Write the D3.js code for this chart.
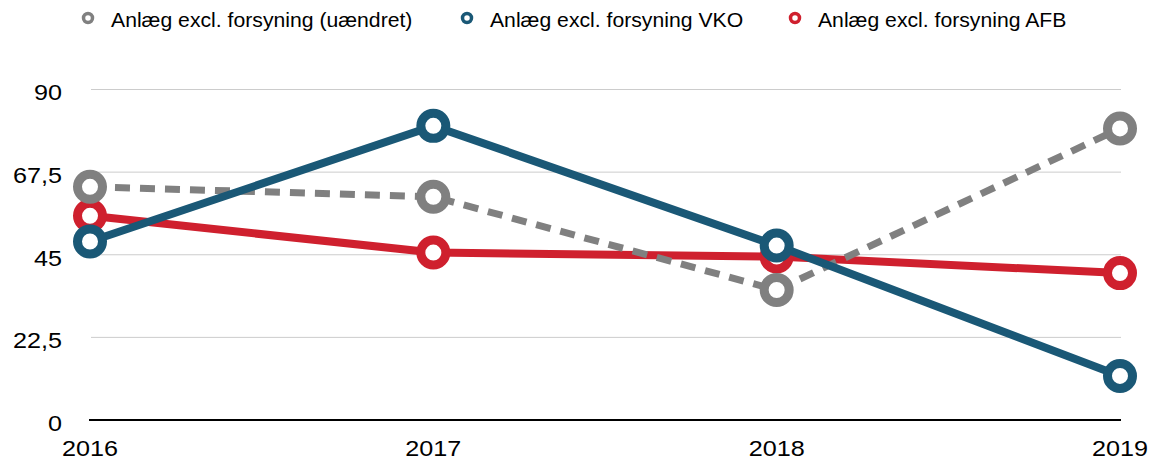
<!DOCTYPE html>
<meta charset="utf-8">
<style>
  body { margin: 0; background: #fff; }
  text { font-family: "Liberation Sans", Arial, sans-serif; }
</style>
<div id="chart"></div>
<script src="https://d3js.org/d3.v7.min.js"></script>
<script>
var years = [2016, 2017, 2018, 2019];
var yTicks = [0, 22.5, 45, 67.5, 90];
var seriesNames = ["Anlæg excl. forsyning (uændret)", "Anlæg excl. forsyning VKO", "Anlæg excl. forsyning AFB"];
var uaendret = [63.5, 60.8, 35.4, 79.4];
var vko = [48.6, 80.1, 47.5, 12.0];
var afb = [55.6, 45.6, 44.5, 40.0];

var colors = ["#808080", "#1a5876", "#cf202e"];

var width = 1157, height = 463;
var svg = d3.select("#chart").append("svg").attr("width", width).attr("height", height);

var x = d3.scalePoint().domain(years).range([90, 1120]);
var y = d3.scaleLinear().domain([0, 90]).range([420, 89.5]);

// text is a bit wider than Arial in the original
function wide(sx) {
  return function(sel) {
    sel.attr("transform", function() {
      var t = d3.select(this);
      var tx = +t.attr("x"), ty = +t.attr("y");
      return "translate(" + tx + "," + ty + ") scale(" + sx + ",1) translate(" + (-tx) + "," + (-ty) + ")";
    });
  };
}

// gridlines
svg.append("g").selectAll("line")
  .data(yTicks.filter(function(d) { return d > 0; }))
  .enter().append("line")
  .attr("x1", 91).attr("x2", 1121)
  .attr("y1", function(d) { return y(d); }).attr("y2", function(d) { return y(d); })
  .attr("stroke", "#cccccc").attr("stroke-width", 1);

// y labels
var fmt = function(d) { return String(d).replace(".", ","); };
svg.append("g").selectAll("text")
  .data(yTicks).enter().append("text")
  .attr("x", 62).attr("y", function(d) { return y(d) + 11; })
  .attr("text-anchor", "end").attr("font-size", 22.5).attr("fill", "#000")
  .text(fmt)
  .call(wide(1.12));

// x axis line
svg.append("line").attr("x1", 89).attr("x2", 1121).attr("y1", y(0)).attr("y2", y(0))
  .attr("stroke", "#000").attr("stroke-width", 2);

svg.append("g").selectAll("text")
  .data(years).enter().append("text")
  .attr("x", function(d) { return x(d); }).attr("y", 456)
  .attr("text-anchor", "middle").attr("font-size", 22.5).attr("fill", "#000")
  .text(function(d) { return d; })
  .call(wide(1.12));

var line = d3.line().x(function(d, i) { return x(years[i]); }).y(function(d) { return y(d); });

var series = [
  { name: seriesNames[2], values: afb, color: colors[2], dash: null },
  { name: seriesNames[0], values: uaendret, color: colors[0], dash: "15,10" },
  { name: seriesNames[1], values: vko, color: colors[1], dash: null }
];

series.forEach(function(s) {
  var g = svg.append("g");
  g.append("path").datum(s.values).attr("d", line)
    .attr("fill", "none").attr("stroke", s.color).attr("stroke-width", s.dash ? 7 : 8)
    .attr("stroke-dasharray", s.dash);
  g.selectAll("circle").data(s.values).enter().append("circle")
    .attr("cx", function(d, i) { return x(years[i]); })
    .attr("cy", function(d) { return y(d); })
    .attr("r", 12.5).attr("fill", "#fff")
    .attr("stroke", s.color).attr("stroke-width", 9);
});

// legend
var legendX = [88, 467, 795];
var legend = svg.append("g");
seriesNames.forEach(function(n, i) {
  legend.append("circle").attr("cx", legendX[i]).attr("cy", 18).attr("r", 4.5)
    .attr("fill", "#fff").attr("stroke", colors[i]).attr("stroke-width", 3.5);
  legend.append("text").attr("x", legendX[i] + 23).attr("y", 27)
    .attr("font-size", 20).attr("fill", "#000").text(n)
    .call(wide(1.06));
});
</script>
